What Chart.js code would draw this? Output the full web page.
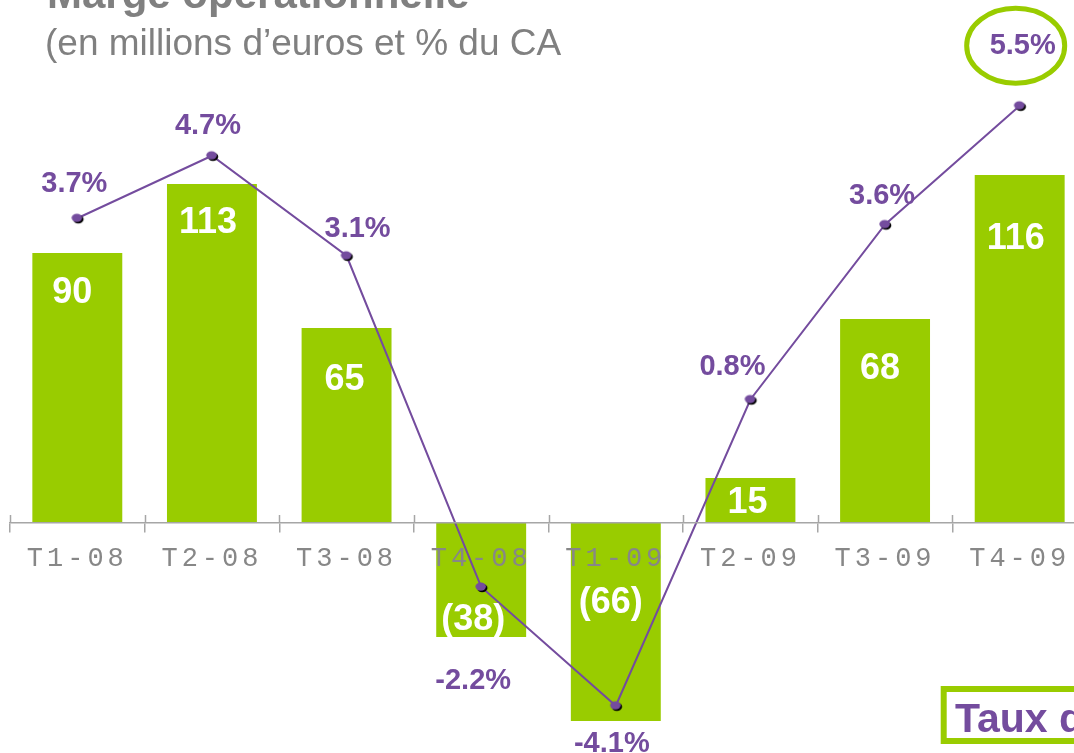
<!DOCTYPE html>
<html><head><meta charset="utf-8">
<script src="https://cdn.jsdelivr.net/npm/chart.js@4"></script>
<style>
html,body{margin:0;padding:0;background:#fff;overflow:hidden;width:1074px;height:753px}
#wrap{position:relative;width:1100px;height:753px}
</style></head>
<body><div id="wrap"><canvas id="c"></canvas></div>
<script>
// ---- data ----
const categories = ['T1-08','T2-08','T3-08','T4-08','T1-09','T2-09','T3-09','T4-09'];
const margeValues = [90, 113, 65, -38, -66, 15, 68, 116];
const tauxValues = [3.7, 4.7, 3.1, -2.2, -4.1, 0.8, 3.6, 5.5];
const titleText = 'Marge opérationnelle';
const subtitleText = '(en millions d’euros et % du CA';
const boxText = 'Taux de marge opérationnelle';

// ---- style ----
const GREEN = '#99cc00', PURPLE = '#744c9e', GRAY = '#808080';
const barLabelOffsets = [[-5,50],[-4,49],[-2,62],[-8,-7],[-5,-108],[-3,35],[-5,60],[-4,74]];
const pctLabelOffsets = [[-3,-26],[-4,-22],[11,-19],[-8,102],[-4,46],[-18,-25],[-3,-21],[3,-52]];

function makePoint(){
  const c = document.createElement('canvas'); c.width = 16; c.height = 14;
  const g = c.getContext('2d');
  g.fillStyle = '#000'; g.beginPath(); g.ellipse(9, 8, 5.3, 4.2, 0, 0, Math.PI*2); g.fill();
  g.fillStyle = PURPLE; g.beginPath(); g.ellipse(7.6, 6.6, 5.3, 4.2, 0, 0, Math.PI*2); g.fill();
  return c;
}

const labelPlugin = {
  id: 'labels',
  afterDatasetsDraw(chart){
    const ctx = chart.ctx;
    ctx.save();
    ctx.textAlign = 'center'; ctx.textBaseline = 'alphabetic';
    const barMeta = chart.getDatasetMeta(1);
    ctx.fillStyle = '#fff';
    ctx.font = 'bold 36px "Liberation Sans", Arial, sans-serif';
    barMeta.data.forEach((el, i) => {
      const v = margeValues[i];
      const t = v < 0 ? '(' + (-v) + ')' : String(v);
      ctx.fillText(t, el.x + barLabelOffsets[i][0], el.y + barLabelOffsets[i][1]);
    });
    const lineMeta = chart.getDatasetMeta(0);
    ctx.fillStyle = PURPLE;
    ctx.font = 'bold 29px "Liberation Sans", Arial, sans-serif';
    lineMeta.data.forEach((el, i) => {
      const t = tauxValues[i].toFixed(1) + '%';
      ctx.fillText(t, el.x + pctLabelOffsets[i][0], el.y + pctLabelOffsets[i][1]);
    });
    // highlight ellipse around last value
    const last = lineMeta.data[lineMeta.data.length - 1];
    ctx.strokeStyle = GREEN; ctx.lineWidth = 5;
    ctx.beginPath(); ctx.ellipse(last.x - 4, last.y - 60, 49, 37.5, 0, 0, Math.PI*2); ctx.stroke();
    ctx.restore();
    ctx.letterSpacing = '4px';
  },
  afterDraw(chart){
    const ctx = chart.ctx;
    ctx.letterSpacing = '0px';
    ctx.save();
    // crossing tick marks (upper half)
    const xs = chart.scales.x, ys = chart.scales.y;
    const y0 = ys.getPixelForValue(0);
    const n = categories.length;
    ctx.strokeStyle = '#a6a6a6'; ctx.lineWidth = 1.5;
    for (let i = 0; i <= n; i++){
      const x = Math.round(xs.left + i * (xs.right - xs.left) / n) + 0.5;
      ctx.beginPath(); ctx.moveTo(x, y0 - 8); ctx.lineTo(x, y0); ctx.stroke();
    }
    // titles
    ctx.fillStyle = GRAY; ctx.textAlign = 'left'; ctx.textBaseline = 'alphabetic';
    ctx.font = 'bold 42px "Liberation Sans", Arial, sans-serif';
    ctx.fillText(titleText, 47, 8);
    ctx.font = '37px "Liberation Sans", Arial, sans-serif';
    ctx.fillText(subtitleText, 45, 55);
    // bottom-right box
    ctx.fillStyle = '#fff';
    ctx.fillRect(943.7, 689, 300, 52);
    ctx.strokeStyle = GREEN; ctx.lineWidth = 6;
    ctx.strokeRect(943.7, 689, 300, 52);
    ctx.fillStyle = PURPLE;
    ctx.font = 'bold 41px "Liberation Sans", Arial, sans-serif';
    ctx.fillText(boxText, 955, 731.5);
    ctx.restore();
  }
};

const pt = makePoint();
new Chart(document.getElementById('c'), {
  type: 'bar',
  data: {
    labels: categories,
    datasets: [
      {type: 'line', data: tauxValues, yAxisID: 'y2', borderColor: PURPLE, borderWidth: 2,
       pointStyle: pt, pointRadius: 6, tension: 0, order: 0, clip: false},
      {type: 'bar', data: margeValues, yAxisID: 'y', backgroundColor: GREEN,
       barPercentage: 0.668, categoryPercentage: 1, order: 1}
    ]
  },
  options: {
    responsive: true, maintainAspectRatio: false, animation: false,
    layout: {autoPadding: false, padding: {left: 10, right: 13, top: 0, bottom: 0}},
    plugins: {legend: {display: false}, tooltip: {enabled: false}, title: {display: false}},
    scales: {
      x: {
        position: {y: 0}, offset: true,
        grid: {display: true, drawOnChartArea: false, drawTicks: true, tickLength: 9, color: '#a6a6a6', lineWidth: 1.5, offset: true, z: 1},
        border: {display: true, color: '#a6a6a6', width: 1.5, z: 1},
        ticks: {font: {family: '"Liberation Mono", monospace', size: 27}, color: '#878787', padding: 11, maxRotation: 0, autoSkip: false, z: 1},
        afterFit(s){ s.height = 0; }
      },
      y: {display: false, min: -76.667, max: 174.333},
      y2: {display: false, min: -4.856, max: 7.192}
    }
  },
  plugins: [labelPlugin]
});
</script>
</body></html>
